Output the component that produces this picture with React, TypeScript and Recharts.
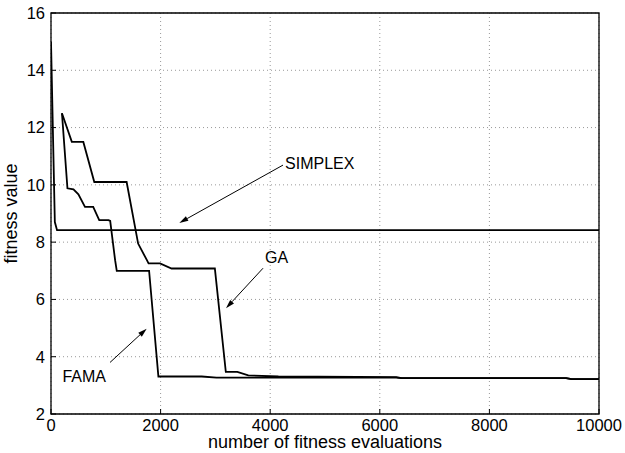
import React from 'react';
import {
  LineChart, Line, XAxis, YAxis, CartesianGrid, ReferenceArea, ReferenceLine, Label,
} from 'recharts';

// x ticks / y ticks
const evalTicks = [0, 2000, 4000, 6000, 8000, 10000];
const fitnessTicks = [2, 4, 6, 8, 10, 12, 14, 16];

// SIMPLEX
const simplexEvals = [0, 70, 110, 10000];
const simplexFitness = [15.0, 8.7, 8.42, 8.42];

// GA
const gaEvals = [200, 380, 590, 790, 1380, 1590, 1750, 1780, 1990, 2200, 2990, 3190, 3400, 3600, 4150, 6300, 6400, 9400, 9500, 10000];
const gaFitness = [12.5, 11.5, 11.5, 10.1, 10.1, 7.95, 7.37, 7.26, 7.26, 7.08, 7.08, 3.47, 3.47, 3.35, 3.31, 3.29, 3.25, 3.25, 3.22, 3.22];

// FAMA
const famaEvals = [200, 300, 410, 500, 620, 770, 880, 1050, 1080, 1170, 1200, 1790, 1960, 2750, 3020, 6300, 6400, 9400, 9500, 10000];
const famaFitness = [12.5, 9.88, 9.84, 9.67, 9.23, 9.23, 8.77, 8.77, 8.74, 7.37, 7.0, 7.0, 3.31, 3.31, 3.27, 3.27, 3.25, 3.25, 3.22, 3.22];

// annotations: label, arrow tail (x, y), arrow tip (x, y)
const noteLabels = ['SIMPLEX', 'GA', 'FAMA'];
const noteTailX = [4234, 3869, 1077];
const noteTailY = [10.69, 7.09, 3.8];
const noteTipX = [2341, 3193, 1746];
const noteTipY = [8.67, 5.69, 4.98];

const toRows = (xs: number[], ys: number[]) => xs.map((x, i) => ({ x, y: ys[i] }));

const simplexData = toRows(simplexEvals, simplexFitness);
const gaData = toRows(gaEvals, gaFitness);
const famaData = toRows(famaEvals, famaFitness);

const FONT = '"Liberation Sans", Arial, Helvetica, sans-serif';
const tickFont = { fill: '#000', fontSize: 16.5, fontFamily: FONT };

// text placement relative to the arrow tail, in px
const labelStyle: Record<string, { dx: number; dy: number; anchor: 'start' | 'end' }> = {
  SIMPLEX: { dx: 2, dy: 0, anchor: 'start' },
  GA: { dx: 2, dy: -9, anchor: 'start' },
  FAMA: { dx: -4, dy: 15, anchor: 'end' },
};

const arrowShape = (text: string) => (props: any) => {
  const { x1, y1, x2, y2 } = props;
  const ang = Math.atan2(y2 - y1, x2 - x1);
  const len = 9;
  const half = 2.6;
  const bx = x2 - len * Math.cos(ang);
  const by = y2 - len * Math.sin(ang);
  const px = -Math.sin(ang) * half;
  const py = Math.cos(ang) * half;
  const s = labelStyle[text];
  return (
    <g>
      <line x1={x1} y1={y1} x2={bx} y2={by} stroke="#000" strokeWidth={1} />
      <polygon
        points={`${x2},${y2} ${bx + px},${by + py} ${bx - px},${by - py}`}
        fill="#000"
      />
      <text
        x={x1 + s.dx}
        y={y1 + s.dy}
        textAnchor={s.anchor}
        dominantBaseline="middle"
        fontFamily={FONT}
        fontSize={16}
        fill="#000"
      >
        {text}
      </text>
    </g>
  );
};

const YTitle = (props: any) => {
  const vb = props.viewBox || { x: 0, y: 13, width: 51, height: 401 };
  const cx = vb.x + 12;
  const cy = vb.y + vb.height / 2;
  return (
    <text
      x={cx}
      y={cy}
      transform={`rotate(-90, ${cx}, ${cy})`}
      textAnchor="middle"
      dominantBaseline="middle"
      fontFamily={FONT}
      fontSize={18}
      fill="#000"
    >
      fitness value
    </text>
  );
};

export default function App() {
  return (
    <div style={{ position: 'absolute', left: 0, top: 0, background: '#fff' }}>
      <LineChart width={625} height={453} margin={{ top: 13, right: 26, bottom: 0, left: 0 }}>
        <CartesianGrid stroke="#999" strokeDasharray="1 3" />
        <XAxis
          dataKey="x"
          type="number"
          domain={[0, 10000]}
          ticks={evalTicks}
          height={39}
          axisLine={false}
          tickLine={{ stroke: '#000' }}
          tickSize={-5}
          tickMargin={10}
          interval={0}
          allowDataOverflow
          tick={tickFont}
          label={{ value: 'number of fitness evaluations', position: 'insideBottom', offset: 5, fill: '#000', fontSize: 18, fontFamily: FONT }}
        />
        <XAxis
          xAxisId="top"
          orientation="top"
          type="number"
          domain={[0, 10000]}
          ticks={evalTicks}
          height={0}
          axisLine={false}
          tickLine={{ stroke: '#000' }}
          tickSize={-5}
          tick={false}
          interval={0}
        />
        <YAxis
          dataKey="y"
          type="number"
          domain={[2, 16]}
          ticks={fitnessTicks}
          width={51}
          axisLine={false}
          tickLine={{ stroke: '#000' }}
          tickSize={-5}
          tickMargin={11}
          interval={0}
          allowDataOverflow
          tick={tickFont}
        >
          <Label content={<YTitle />} />
        </YAxis>
        <YAxis
          yAxisId="right"
          orientation="right"
          type="number"
          domain={[2, 16]}
          ticks={fitnessTicks}
          width={0}
          axisLine={false}
          tickLine={{ stroke: '#000' }}
          tickSize={-5}
          tick={false}
          interval={0}
        />
        <ReferenceArea x1={0} x2={10000} y1={2} y2={16} fill="none" stroke="#000" strokeWidth={1.3} strokeOpacity={1} fillOpacity={0} />
        <Line data={simplexData} dataKey="y" type="linear" stroke="#000" strokeWidth={1.8} dot={false} isAnimationActive={false} />
        <Line data={gaData} dataKey="y" type="linear" stroke="#000" strokeWidth={1.8} dot={false} isAnimationActive={false} />
        <Line data={famaData} dataKey="y" type="linear" stroke="#000" strokeWidth={1.8} dot={false} isAnimationActive={false} />
        {noteLabels.map((t, i) => (
          <ReferenceLine
            key={t}
            segment={[{ x: noteTailX[i], y: noteTailY[i] }, { x: noteTipX[i], y: noteTipY[i] }]}
            shape={arrowShape(t)}
          />
        ))}
      </LineChart>
    </div>
  );
}
